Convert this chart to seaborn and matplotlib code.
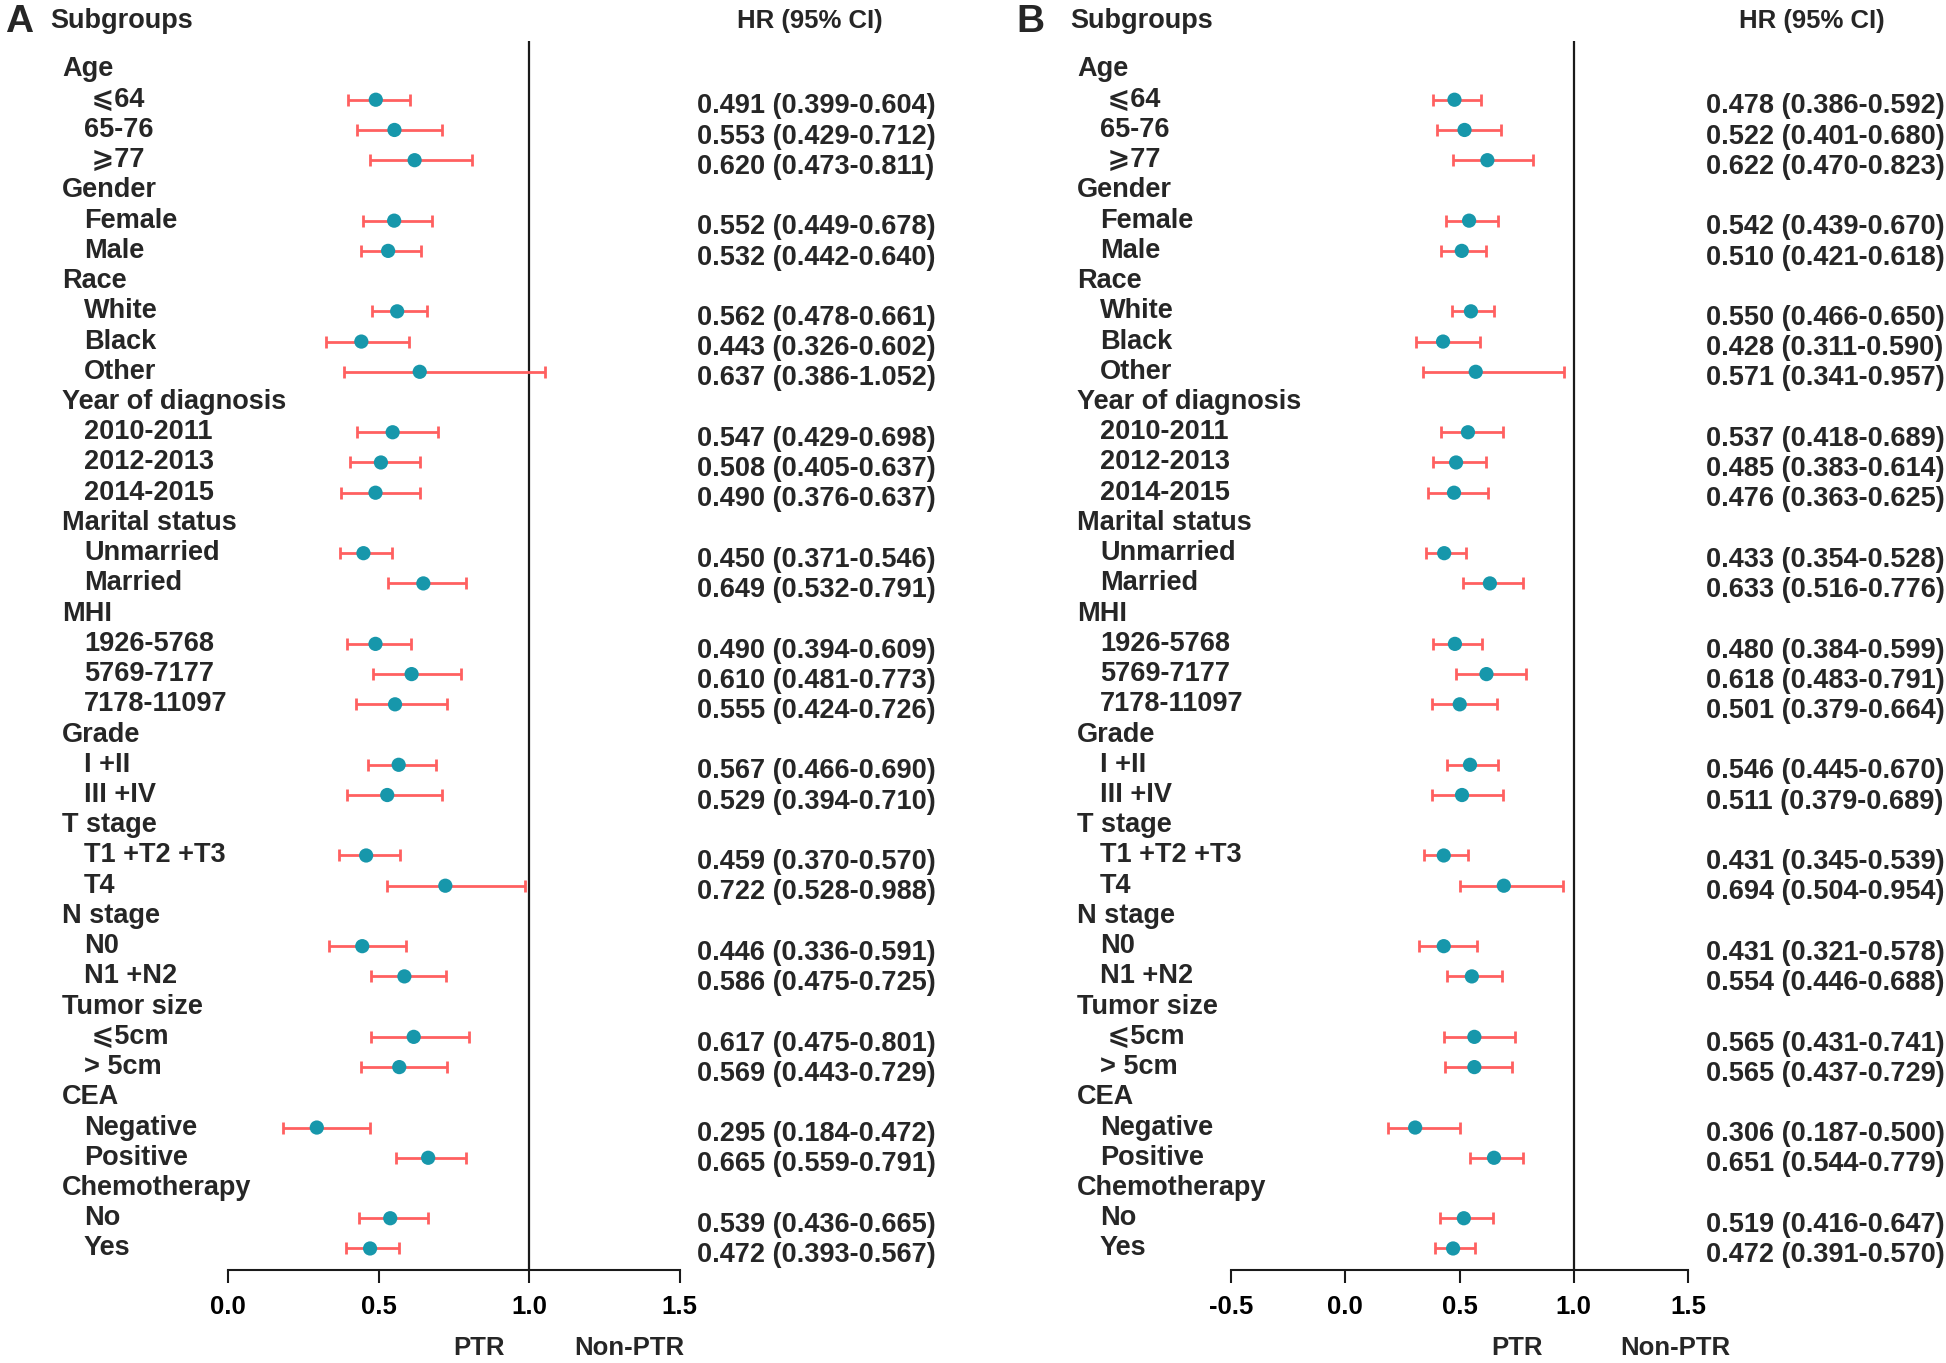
import numpy as np
import pandas as pd
import matplotlib
matplotlib.use("Agg")
import matplotlib.pyplot as plt
import seaborn as sns
from matplotlib.transforms import blended_transform_factory

# ---------------- data ----------------
groups = ["Age", "Gender", "Race", "Year of diagnosis", "Marital status", "MHI",
          "Grade", "T stage", "N stage", "Tumor size", "CEA", "Chemotherapy"]
subgroups = [
    [" \u2a7d64", "65-76", " \u2a7e77"],
    ["Female", "Male"],
    ["White", "Black", "Other"],
    ["2010-2011", "2012-2013", "2014-2015"],
    ["Unmarried", "Married"],
    ["1926-5768", "5769-7177", "7178-11097"],
    ["I +II", "III +IV"],
    ["T1 +T2 +T3", "T4"],
    ["N0", "N1 +N2"],
    [" \u2a7d5cm", "> 5cm"],
    ["Negative", "Positive"],
    ["No", "Yes"],
]

hr_a = [0.491, 0.553, 0.620, 0.552, 0.532, 0.562, 0.443, 0.637, 0.547, 0.508, 0.490,
        0.450, 0.649, 0.490, 0.610, 0.555, 0.567, 0.529, 0.459, 0.722, 0.446, 0.586,
        0.617, 0.569, 0.295, 0.665, 0.539, 0.472]
lo_a = [0.399, 0.429, 0.473, 0.449, 0.442, 0.478, 0.326, 0.386, 0.429, 0.405, 0.376,
        0.371, 0.532, 0.394, 0.481, 0.424, 0.466, 0.394, 0.370, 0.528, 0.336, 0.475,
        0.475, 0.443, 0.184, 0.559, 0.436, 0.393]
hi_a = [0.604, 0.712, 0.811, 0.678, 0.640, 0.661, 0.602, 1.052, 0.698, 0.637, 0.637,
        0.546, 0.791, 0.609, 0.773, 0.726, 0.690, 0.710, 0.570, 0.988, 0.591, 0.725,
        0.801, 0.729, 0.472, 0.791, 0.665, 0.567]

hr_b = [0.478, 0.522, 0.622, 0.542, 0.510, 0.550, 0.428, 0.571, 0.537, 0.485, 0.476,
        0.433, 0.633, 0.480, 0.618, 0.501, 0.546, 0.511, 0.431, 0.694, 0.431, 0.554,
        0.565, 0.565, 0.306, 0.651, 0.519, 0.472]
lo_b = [0.386, 0.401, 0.470, 0.439, 0.421, 0.466, 0.311, 0.341, 0.418, 0.383, 0.363,
        0.354, 0.516, 0.384, 0.483, 0.379, 0.445, 0.379, 0.345, 0.504, 0.321, 0.446,
        0.431, 0.437, 0.187, 0.544, 0.416, 0.391]
hi_b = [0.592, 0.680, 0.823, 0.670, 0.618, 0.650, 0.590, 0.957, 0.689, 0.614, 0.625,
        0.528, 0.776, 0.599, 0.791, 0.664, 0.670, 0.689, 0.539, 0.954, 0.578, 0.688,
        0.741, 0.729, 0.500, 0.779, 0.647, 0.570]

ticks_a = [0.0, 0.5, 1.0, 1.5]
ticks_b = [-0.5, 0.0, 0.5, 1.0, 1.5]

# ---------------- style ----------------
sns.set_style("white")
plt.rcParams["font.family"] = ["Liberation Sans", "DejaVu Sans"]
plt.rcParams["font.weight"] = "bold"

W, H = 1946, 1363
fig = plt.figure(figsize=(W / 100, H / 100), dpi=100)


def fx(px):
    return px / W


def fy(py):
    return 1 - py / H


# row layout
rows_hdr, rows_sub, sub_labels = [], [], []
r = 0
for g, subs in zip(groups, subgroups):
    rows_hdr.append(r)
    r += 1
    for s in subs:
        rows_sub.append(r)
        sub_labels.append(s)
        r += 1

ROW0, STEP = 69.5, 30.23
TOP_PX, AX_PX = 41, 1270
ylim_top = (TOP_PX - ROW0) / STEP
ylim_bot = (AX_PX - ROW0) / STEP

FS = 19.5
FS_HDR = 18.5
TEAL = "#1797ab"
RED = "#ff6060"


def panel(letter, hr, lo, hi, ticks, x0px, x1px, letter_x, sub_x, hdr_x, ind_x,
          hrx, num_x, ptr_x, nonptr_x):
    ax = fig.add_axes([fx(x0px), fy(AX_PX), (x1px - x0px) / W, (AX_PX - TOP_PX) / H])
    df = pd.DataFrame({"hr": hr, "lo": lo, "hi": hi, "row": rows_sub})
    ax.errorbar(df["hr"], df["row"], xerr=[df["hr"] - df["lo"], df["hi"] - df["hr"]],
                fmt="none", ecolor=RED, elinewidth=2.0, capsize=4.5, capthick=2.0,
                zorder=2)
    sns.scatterplot(data=df, x="hr", y="row", color=TEAL, s=105, edgecolor="none",
                    ax=ax, zorder=3, legend=False)
    ax.axvline(1.0, color="#1a1a1a", lw=1.6, zorder=1)
    ax.set_xlim(ticks[0], ticks[-1])
    ax.set_ylim(ylim_bot, ylim_top)
    for sp in ["top", "left", "right"]:
        ax.spines[sp].set_visible(False)
    ax.spines["bottom"].set_linewidth(1.5)
    ax.spines["bottom"].set_color("#1a1a1a")
    ax.set_yticks([])
    ax.set_xticks(ticks)
    ax.set_xticklabels([f"{t:.1f}" for t in ticks], fontsize=FS_HDR, fontweight="bold")
    ax.tick_params(axis="x", direction="out", length=9, width=1.5, pad=9,
                   colors="#1a1a1a", labelcolor="black", bottom=True)
    ax.set_xlabel("")
    ax.set_ylabel("")
    ax.patch.set_alpha(0)

    trans = blended_transform_factory(fig.transFigure, ax.transData)
    for g, rr in zip(groups, rows_hdr):
        ax.text(fx(hdr_x), rr, g, transform=trans, fontsize=FS, fontweight="bold",
                ha="left", va="center", clip_on=False)
    for s, rr, h, l, u in zip(sub_labels, rows_sub, hr, lo, hi):
        ax.text(fx(sub_x), rr, s, transform=trans, fontsize=FS, fontweight="bold",
                ha="left", va="center", clip_on=False)
        ax.text(fx(num_x), rr + 0.22, f"{h:.3f} ({l:.3f}-{u:.3f})", transform=trans,
                fontsize=FS, fontweight="bold", ha="left", va="center", clip_on=False)

    fig.text(fx(letter_x), fy(22), letter, fontsize=28, fontweight="bold",
             ha="left", va="center")
    fig.text(fx(ind_x), fy(21), "Subgroups", fontsize=FS, fontweight="bold",
             ha="left", va="center")
    fig.text(fx(hrx), fy(21), "HR (95% CI)", fontsize=FS_HDR, fontweight="bold",
             ha="center", va="center")
    fig.text(fx(ptr_x), fy(1348), "PTR", fontsize=FS_HDR, fontweight="bold",
             ha="center", va="center")
    fig.text(fx(nonptr_x), fy(1348), "Non-PTR", fontsize=FS_HDR, fontweight="bold",
             ha="center", va="center")


panel("A", hr_a, lo_a, hi_a, ticks_a, 228, 679.5, 5, 84, 62, 50, 810, 697, 479, 629)
panel("B", hr_b, lo_b, hi_b, ticks_b, 1231, 1688, 1016, 1100, 1077, 1070, 1812, 1706,
      1517, 1675)

fig.savefig("out.png", dpi=100)
